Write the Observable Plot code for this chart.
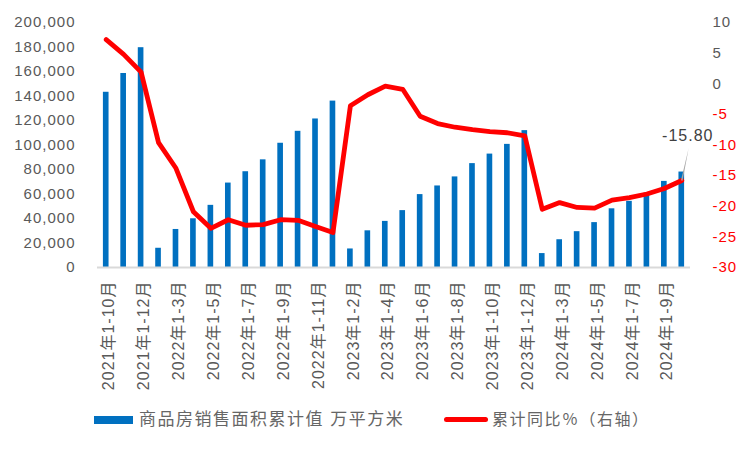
<!DOCTYPE html>
<html>
<head>
<meta charset="utf-8">
<script src="https://cdn.jsdelivr.net/npm/d3@7"></script>
<script src="https://cdn.jsdelivr.net/npm/@observablehq/plot@0.6"></script>
<style>
  body { margin: 0; background: #fff; font-family: "Liberation Sans", "Noto Sans CJK SC", sans-serif; }
  #chart svg text { letter-spacing: 1px; }
  #legend { position: relative; width: 750px; height: 50px; }
  #legend .sw-bar { position: absolute; left: 94px; top: 16px; width: 39px; height: 8px; background: #0070C0; }
  #legend .sw-line { position: absolute; left: 444px; top: 17px; width: 44px; height: 5px; border-radius: 3px; background: #FF0000; }
  #legend .lab { position: absolute; top: 8px; line-height: 24px; color: #666; letter-spacing: 1.5px; white-space: nowrap; }
</style>
</head>
<body>
<div id="chart"></div>
<div id="legend">
  <div class="sw-bar"></div>
  <div class="lab" id="lab1" style="left:139px;font-size:17px;"></div>
  <div class="sw-line"></div>
  <div class="lab" id="lab2" style="left:492px;font-size:16px;"></div>
</div>
<script>
const periods = [
  "2021年1-10月","2021年1-11月","2021年1-12月",
  "2022年1-2月","2022年1-3月","2022年1-4月","2022年1-5月","2022年1-6月","2022年1-7月","2022年1-8月","2022年1-9月","2022年1-10月","2022年1-11月","2022年1-12月",
  "2023年1-2月","2023年1-3月","2023年1-4月","2023年1-5月","2023年1-6月","2023年1-7月","2023年1-8月","2023年1-9月","2023年1-10月","2023年1-11月","2023年1-12月",
  "2024年1-2月","2024年1-3月","2024年1-4月","2024年1-5月","2024年1-6月","2024年1-7月","2024年1-8月","2024年1-9月","2024年1-10月"
];
const salesArea = [
  143041, 158375, 179433,
  15703, 31046, 39768, 50738, 68923, 78178, 87890, 101422, 111179, 121250, 135837,
  15133, 29946, 37636, 46440, 59515, 66563, 73949, 84806, 92579, 100509, 111735,
  11369, 22668, 29252, 36642, 47916, 54007, 60699, 70284, 77930
];
const yoyPct = [
  7.2, 4.8, 1.9,
  -9.6, -13.8, -20.9, -23.6, -22.2, -23.1, -23.0, -22.2, -22.3, -23.3, -24.3,
  -3.6, -1.8, -0.4, -0.9, -5.3, -6.5, -7.1, -7.5, -7.8, -8.0, -8.5,
  -20.5, -19.4, -20.2, -20.3, -19.0, -18.6, -18.0, -17.1, -15.8
];
const leftTicks = [0, 20000, 40000, 60000, 80000, 100000, 120000, 140000, 160000, 180000, 200000];
const rightTicks = [10, 5, 0, -5, -10, -15, -20, -25, -30];
const leftDomain = [0, 200000];
const rightDomain = [-30, 10];
const barLabel = "商品房销售面积累计值 万平方米";
const lineLabel = "累计同比％（右轴）";

document.getElementById("lab1").textContent = barLabel;
document.getElementById("lab2").textContent = lineLabel;

// map right-axis values (%) onto the left scale
const k = (leftDomain[1] - leftDomain[0]) / (rightDomain[1] - rightDomain[0]);
const toLeft = p => (p - rightDomain[0]) * k + leftDomain[0];
const fromLeft = v => Math.round(((v - leftDomain[0]) / k + rightDomain[0]) * 100) / 100;

const data = periods.map((p, i) => ({ period: p, area: salesArea[i], yoy: yoyPct[i], y2: toLeft(yoyPct[i]) }));
const last = data[data.length - 1];

const plot = Plot.plot({
  width: 750,
  height: 400,
  marginLeft: 97,
  marginRight: 60,
  marginTop: 22,
  marginBottom: 133,
  style: { fontFamily: "'Liberation Sans','Noto Sans CJK SC',sans-serif", fontSize: "15px", color: "#595959", background: "#fff" },
  x: { domain: periods, padding: 0, round: false, axis: null },
  y: { domain: leftDomain, axis: null },
  marks: [
    Plot.barY(data, { x: "period", y: "area", fill: "#0070C0", insetLeft: 5.9, insetRight: 5.9 }),
    Plot.ruleY([0], { stroke: "#d9d9d9", strokeWidth: 2 }),
    Plot.axisY({ anchor: "left", ticks: leftTicks, tickSize: 0, tickPadding: 22, tickFormat: d3.format(","), fill: "#595959", label: null }),
    Plot.axisY({ anchor: "right", ticks: rightTicks.filter(v => v >= 0).map(toLeft), tickSize: 0, tickPadding: 22, tickFormat: d => String(fromLeft(d)), fill: "#595959", label: null }),
    Plot.axisY({ anchor: "right", ticks: rightTicks.filter(v => v < 0).map(toLeft), tickSize: 0, tickPadding: 22, tickFormat: d => String(fromLeft(d)), fill: "#FF0000", label: null }),
    Plot.axisX({ ticks: periods.filter((_, i) => i % 2 === 0), tickRotate: -90, tickSize: 0, tickPadding: 13, dx: 3, fill: "#595959", fontSize: 16, label: null }),
    Plot.line(data, { x: "period", y: "y2", stroke: "#FF0000", strokeWidth: 4.8, strokeLinejoin: "round", strokeLinecap: "round" }),
    Plot.vector([last], { x: "period", y: "y2", shape: "spike", r: 0.8, length: 33, rotate: 12, anchor: "start", fill: "#a6a6a6", stroke: "none" }),
    Plot.text([last], { x: "period", y: "y2", text: d => d.yoy.toFixed(2), dx: 6, dy: -45, fill: "#404040", fontSize: 16 })
  ]
});
document.getElementById("chart").appendChild(plot);
</script>
</body>
</html>
